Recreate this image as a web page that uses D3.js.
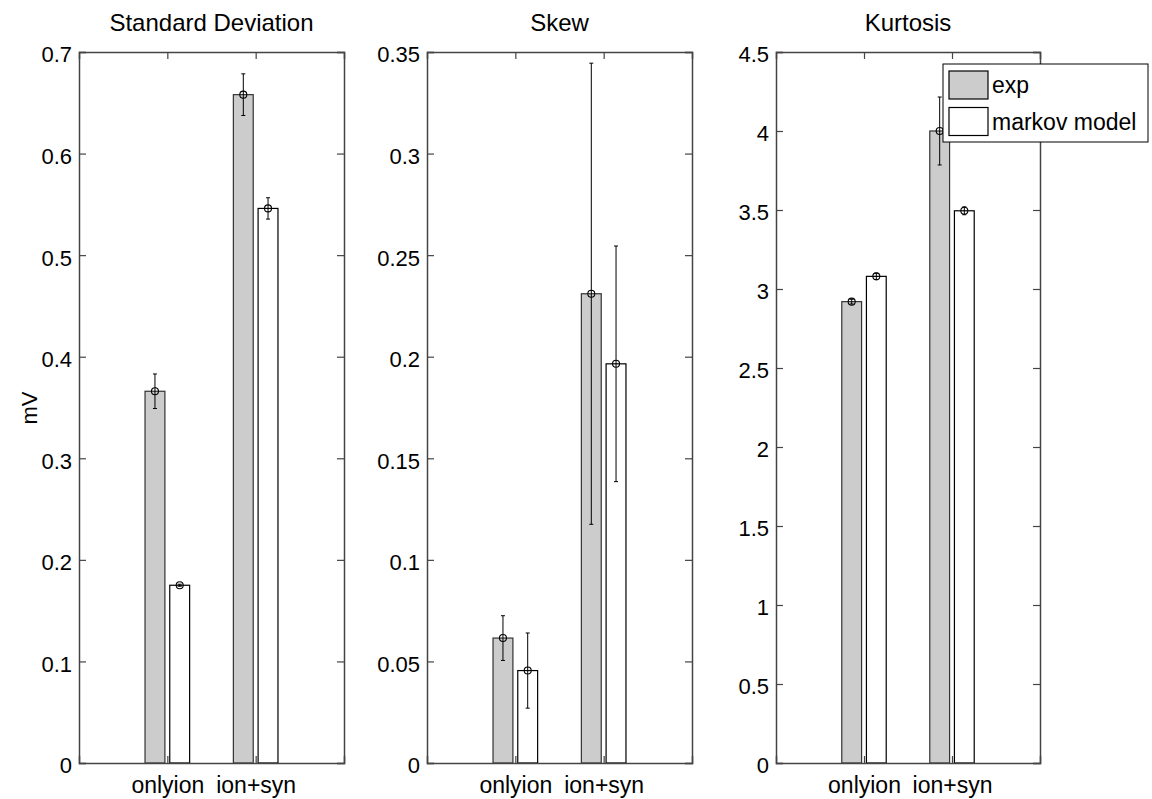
<!DOCTYPE html>
<html><head><meta charset="utf-8">
<script src="https://cdn.jsdelivr.net/npm/d3@7"></script>
<style>body{margin:0;background:#fff}svg{display:block}text{font-family:"Liberation Sans",Arial,sans-serif;fill:#000}</style>
</head><body>
<script>
const categories = ["onlyion", "ion+syn"];
const seriesNames = ["exp", "markov model"];
const titles = ["Standard Deviation", "Skew", "Kurtosis"];

const sdExp = [0.366, 0.658];
const sdExpErr = [0.017, 0.0205];
const sdMarkov = [0.175, 0.546];
const sdMarkovErr = [0.001, 0.0105];

const skewExp = [0.0615, 0.231];
const skewExpErr = [0.011, 0.1135];
const skewMarkov = [0.0455, 0.1965];
const skewMarkovErr = [0.0185, 0.058];

const kurtExp = [2.92, 4.0];
const kurtExpErr = [0.015, 0.215];
const kurtMarkov = [3.08, 3.495];
const kurtMarkovErr = [0.02, 0.025];

const sdTicks = [0, 0.1, 0.2, 0.3, 0.4, 0.5, 0.6, 0.7];
const skewTicks = [0, 0.05, 0.1, 0.15, 0.2, 0.25, 0.3, 0.35];
const kurtTicks = [0, 0.5, 1, 1.5, 2, 2.5, 3, 3.5, 4, 4.5];

const W = 1152, H = 799;
const svg = d3.select("body").append("svg").attr("width", W).attr("height", H);

const panels = [
  {title: titles[0], exp: sdExp, expErr: sdExpErr, mk: sdMarkov, mkErr: sdMarkovErr, ticks: sdTicks, left: 79, right: 344},
  {title: titles[1], exp: skewExp, expErr: skewExpErr, mk: skewMarkov, mkErr: skewMarkovErr, ticks: skewTicks, left: 427, right: 692},
  {title: titles[2], exp: kurtExp, expErr: kurtExpErr, mk: kurtMarkov, mkErr: kurtMarkovErr, ticks: kurtTicks, left: 776, right: 1040}
];
const plotTop = 52, plotBottom = 763;
const fills = ["#cccccc", "#ffffff"];
const offset = 0.14, bw = 0.225;
const axisColor = "#444";

panels.forEach((p, pi) => {
  const x = d3.scaleLinear().domain([0, 3]).range([p.left, p.right]);
  const y = d3.scaleLinear().domain([0, p.ticks[p.ticks.length - 1]]).range([plotBottom, plotTop]);
  const g = svg.append("g");

  const series = [
    {vals: p.exp, errs: p.expErr, off: -offset, fill: fills[0], stroke: "#333"},
    {vals: p.mk, errs: p.mkErr, off: offset, fill: fills[1], stroke: "#000"}
  ];
  series.forEach(s => {
    s.vals.forEach((v, i) => {
      const x0 = x(i + 1 + s.off - bw / 2), x1 = x(i + 1 + s.off + bw / 2);
      g.append("rect").attr("x", x0).attr("y", y(v)).attr("width", x1 - x0).attr("height", y(0) - y(v))
        .attr("fill", s.fill).attr("stroke", s.stroke).attr("stroke-width", 1.2);
    });
  });
  series.forEach(s => {
    s.vals.forEach((v, i) => {
      const cx = x(i + 1 + s.off);
      const e = s.errs[i];
      g.append("line").attr("x1", cx).attr("x2", cx).attr("y1", y(v - e)).attr("y2", y(v + e)).attr("stroke", "#000").attr("stroke-width", 1);
      [v - e, v + e].forEach(t => g.append("line").attr("x1", cx - 2).attr("x2", cx + 2).attr("y1", y(t)).attr("y2", y(t)).attr("stroke", "#000").attr("stroke-width", 1));
      g.append("circle").attr("cx", cx).attr("cy", y(v)).attr("r", 3.5).attr("fill", "none").attr("stroke", "#000").attr("stroke-width", 1.1);
    });
  });

  const tl = 7;
  const yl = g.append("g").attr("transform", `translate(${p.left},0)`)
    .call(d3.axisLeft(y).tickValues(p.ticks).tickSize(-tl).tickPadding(7).tickFormat(d3.format("~g")));
  yl.selectAll("text").attr("font-size", 22).attr("dy", "0.45em").style("font-family", '"Liberation Sans",Arial,sans-serif');
  const yr = g.append("g").attr("transform", `translate(${p.right},0)`)
    .call(d3.axisRight(y).tickValues(p.ticks).tickSize(-tl).tickFormat(""));
  const xb = g.append("g").attr("transform", `translate(0,${plotBottom})`)
    .call(d3.axisBottom(x).tickValues([1, 2]).tickSize(-tl).tickPadding(14).tickFormat((d, i) => categories[i]));
  xb.selectAll("text").attr("font-size", 23).attr("dy", "0.71em").style("font-family", '"Liberation Sans",Arial,sans-serif');
  const xt = g.append("g").attr("transform", `translate(0,${plotTop})`)
    .call(d3.axisTop(x).tickValues([1, 2]).tickSize(-tl).tickFormat(""));
  [yl, yr, xb, xt].forEach(a => {
    a.select(".domain").attr("stroke", axisColor).attr("stroke-width", 1.5);
    a.selectAll(".tick line").attr("stroke", axisColor).attr("stroke-width", 1.2);
  });

  svg.append("text").attr("x", (p.left + p.right) / 2).attr("y", 31).attr("text-anchor", "middle")
    .attr("font-size", 24).text(p.title);
});

svg.append("text").attr("transform", "translate(37,408) rotate(-90)").attr("text-anchor", "middle")
  .attr("font-size", 22).text("mV");

const lg = svg.append("g");
lg.append("rect").attr("x", 943).attr("y", 64).attr("width", 205).attr("height", 78)
  .attr("fill", "#fff").attr("stroke", "#000").attr("stroke-width", 1);
seriesNames.forEach((n, i) => {
  const yy = 71 + i * 36.5;
  lg.append("rect").attr("x", 949).attr("y", yy).attr("width", 39).attr("height", 28)
    .attr("fill", fills[i]).attr("stroke", "#000").attr("stroke-width", 1.2);
  lg.append("text").attr("x", 992).attr("y", yy + 22).attr("font-size", 23).text(n);
});
</script>
</body></html>
